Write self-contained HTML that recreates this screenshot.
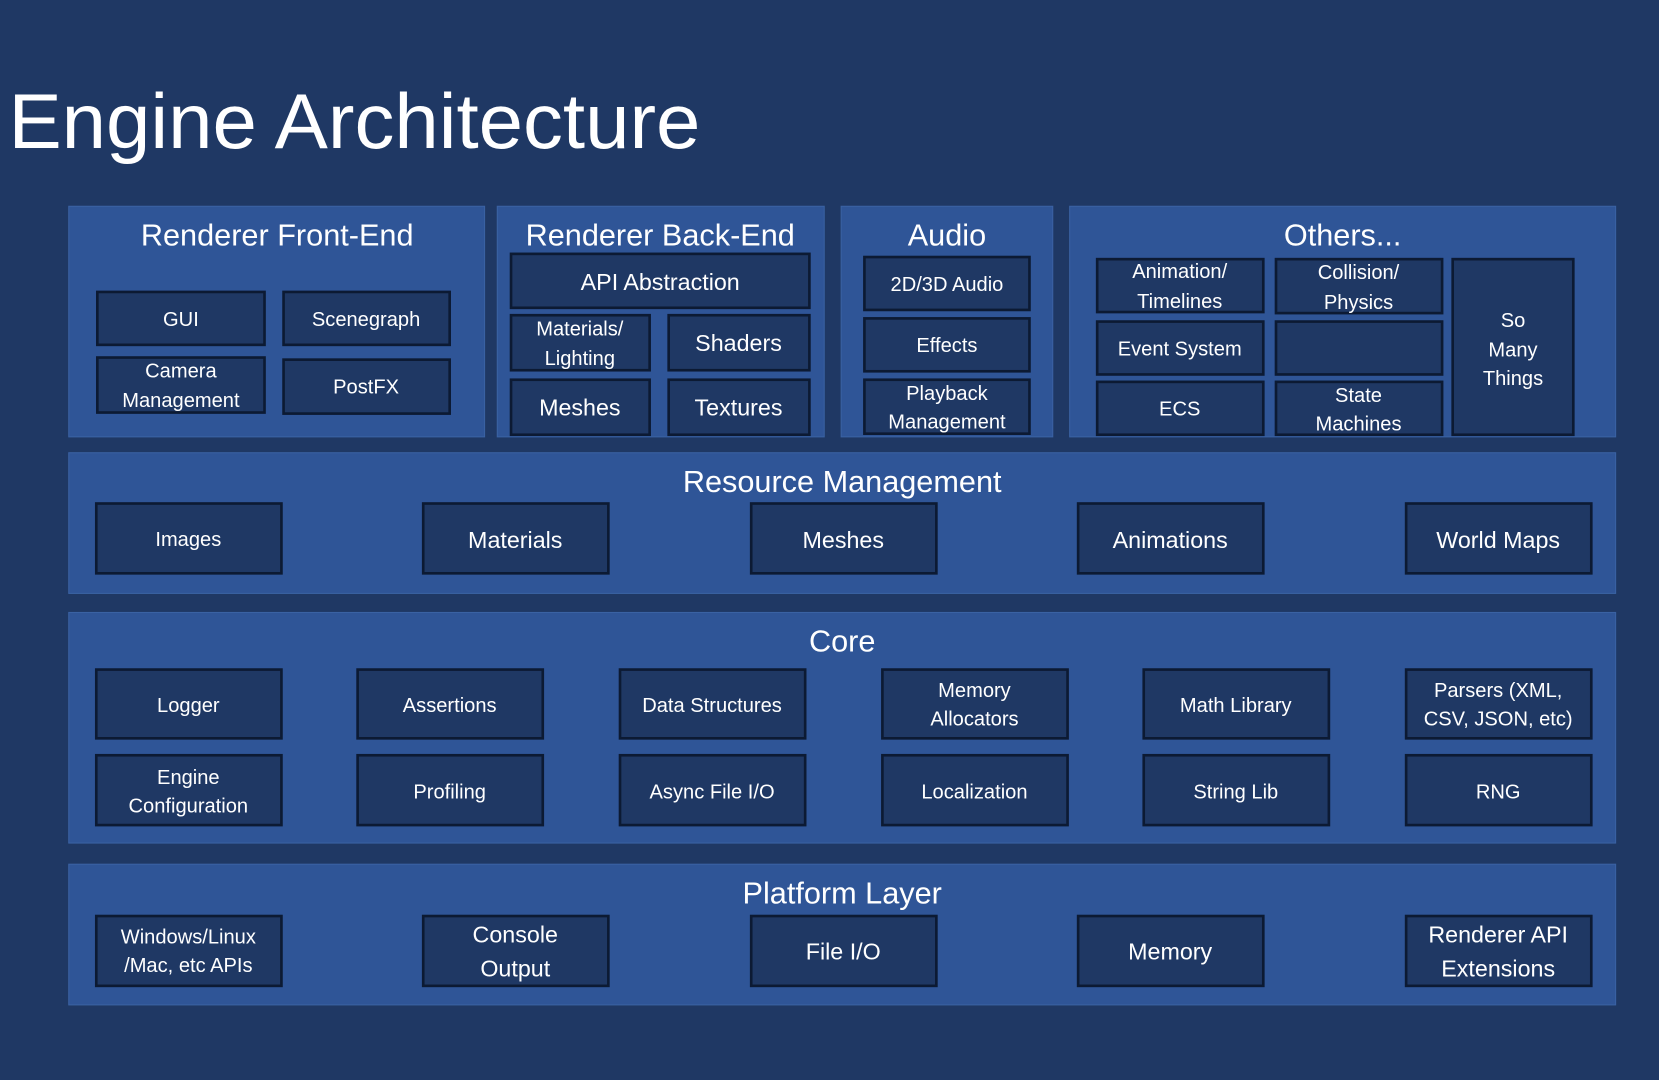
<!DOCTYPE html>
<html><head><meta charset="utf-8"><style>
html,body{margin:0;padding:0;background:#1f3864;}
svg{display:block}
text{font-family:"Liberation Sans",sans-serif;fill:#fff;text-anchor:middle;}
.p{fill:#2f5597;stroke:#3a62a3;stroke-width:1}
.b{fill:#1f3864;stroke:#0c1a33;stroke-width:2.5}
.t{font-size:29px}
.s{font-size:19px}
.m{font-size:22px}
</style></head><body>
<svg width="1659" height="1080" viewBox="0 0 1568 1021" preserveAspectRatio="none">
<rect width="1568" height="1021" fill="#1f3864"/>
<text x="8" y="140" style="font-size:74px;text-anchor:start" textLength="654" lengthAdjust="spacingAndGlyphs">Engine Architecture</text>

<rect class="p" x="65" y="195" width="393" height="218"/>
<rect class="p" x="470" y="195" width="309" height="218"/>
<rect class="p" x="795" y="195" width="200" height="218"/>
<rect class="p" x="1011" y="195" width="516" height="218"/>
<rect class="p" x="65" y="428" width="1462" height="133"/>
<rect class="p" x="65" y="579" width="1462" height="218"/>
<rect class="p" x="65" y="817" width="1462" height="133"/>

<text class="t" x="262" y="232">Renderer Front-End</text>
<text class="t" x="624" y="232">Renderer Back-End</text>
<text class="t" x="895" y="232">Audio</text>
<text class="t" x="1269" y="232">Others...</text>
<text class="t" x="796" y="465">Resource Management</text>
<text class="t" x="796" y="616">Core</text>
<text class="t" x="796" y="854">Platform Layer</text>

<!-- RFE -->
<rect class="b" x="92" y="276" width="158" height="50"/><text class="s" x="171" y="308">GUI</text>
<rect class="b" x="268" y="276" width="157" height="50"/><text class="s" x="346" y="308">Scenegraph</text>
<rect class="b" x="92" y="338" width="158" height="52"/><text class="s" x="171" y="357">Camera</text><text class="s" x="171" y="385">Management</text>
<rect class="b" x="268" y="340" width="157" height="51"/><text class="s" x="346" y="372">PostFX</text>
<!-- RBE -->
<rect class="b" x="483" y="240" width="282" height="51"/><text class="m" x="624" y="274">API Abstraction</text>
<rect class="b" x="483" y="298" width="131" height="52"/><text class="s" x="548" y="317">Materials/</text><text class="s" x="548" y="345">Lighting</text>
<rect class="b" x="632" y="298" width="133" height="52"/><text class="m" x="698" y="332">Shaders</text>
<rect class="b" x="483" y="359" width="131" height="52"/><text class="m" x="548" y="393">Meshes</text>
<rect class="b" x="632" y="359" width="133" height="52"/><text class="m" x="698" y="393">Textures</text>
<!-- Audio -->
<rect class="b" x="817" y="243" width="156" height="50"/><text class="s" x="895" y="275">2D/3D Audio</text>
<rect class="b" x="817" y="301" width="156" height="50"/><text class="s" x="895" y="333">Effects</text>
<rect class="b" x="817" y="359" width="156" height="51"/><text class="s" x="895" y="378">Playback</text><text class="s" x="895" y="405">Management</text>
<!-- Others -->
<rect class="b" x="1037" y="245" width="157" height="50"/><text class="s" x="1115" y="263">Animation/</text><text class="s" x="1115" y="291">Timelines</text>
<rect class="b" x="1206" y="245" width="157" height="51"/><text class="s" x="1284" y="264">Collision/</text><text class="s" x="1284" y="292">Physics</text>
<rect class="b" x="1037" y="304" width="157" height="50"/><text class="s" x="1115" y="336">Event System</text>
<rect class="b" x="1206" y="304" width="157" height="50"/>
<rect class="b" x="1037" y="361" width="157" height="50"/><text class="s" x="1115" y="393">ECS</text>
<rect class="b" x="1206" y="361" width="157" height="50"/><text class="s" x="1284" y="380">State</text><text class="s" x="1284" y="407">Machines</text>
<rect class="b" x="1373" y="245" width="114" height="166"/><text class="s" x="1430" y="309">So</text><text class="s" x="1430" y="337">Many</text><text class="s" x="1430" y="364">Things</text>

<!-- Resource -->
<rect class="b" x="91" y="476" width="175" height="66"/><text class="s" x="178" y="516">Images</text>
<rect class="b" x="400" y="476" width="175" height="66"/><text class="m" x="487" y="518">Materials</text>
<rect class="b" x="710" y="476" width="175" height="66"/><text class="m" x="797" y="518">Meshes</text>
<rect class="b" x="1019" y="476" width="175" height="66"/><text class="m" x="1106" y="518">Animations</text>
<rect class="b" x="1329" y="476" width="175" height="66"/><text class="m" x="1416" y="518">World Maps</text>

<!-- Core -->
<rect class="b" x="91" y="633" width="175" height="65"/><text class="s" x="178" y="673">Logger</text>
<rect class="b" x="338" y="633" width="175" height="65"/><text class="s" x="425" y="673">Assertions</text>
<rect class="b" x="586" y="633" width="175" height="65"/><text class="s" x="673" y="673">Data Structures</text>
<rect class="b" x="834" y="633" width="175" height="65"/><text class="s" x="921" y="659">Memory</text><text class="s" x="921" y="686">Allocators</text>
<rect class="b" x="1081" y="633" width="175" height="65"/><text class="s" x="1168" y="673">Math Library</text>
<rect class="b" x="1329" y="633" width="175" height="65"/><text class="s" x="1416" y="659">Parsers (XML,</text><text class="s" x="1416" y="686">CSV, JSON, etc)</text>
<rect class="b" x="91" y="714" width="175" height="66"/><text class="s" x="178" y="741">Engine</text><text class="s" x="178" y="768">Configuration</text>
<rect class="b" x="338" y="714" width="175" height="66"/><text class="s" x="425" y="755">Profiling</text>
<rect class="b" x="586" y="714" width="175" height="66"/><text class="s" x="673" y="755">Async File I/O</text>
<rect class="b" x="834" y="714" width="175" height="66"/><text class="s" x="921" y="755">Localization</text>
<rect class="b" x="1081" y="714" width="175" height="66"/><text class="s" x="1168" y="755">String Lib</text>
<rect class="b" x="1329" y="714" width="175" height="66"/><text class="s" x="1416" y="755">RNG</text>

<!-- Platform -->
<rect class="b" x="91" y="866" width="175" height="66"/><text class="s" x="178" y="892">Windows/Linux</text><text class="s" x="178" y="919">/Mac, etc APIs</text>
<rect class="b" x="400" y="866" width="175" height="66"/><text class="m" x="487" y="891">Console</text><text class="m" x="487" y="923">Output</text>
<rect class="b" x="710" y="866" width="175" height="66"/><text class="m" x="797" y="907">File I/O</text>
<rect class="b" x="1019" y="866" width="175" height="66"/><text class="m" x="1106" y="907">Memory</text>
<rect class="b" x="1329" y="866" width="175" height="66"/><text class="m" x="1416" y="891">Renderer API</text><text class="m" x="1416" y="923">Extensions</text>
</svg>
</body></html>
